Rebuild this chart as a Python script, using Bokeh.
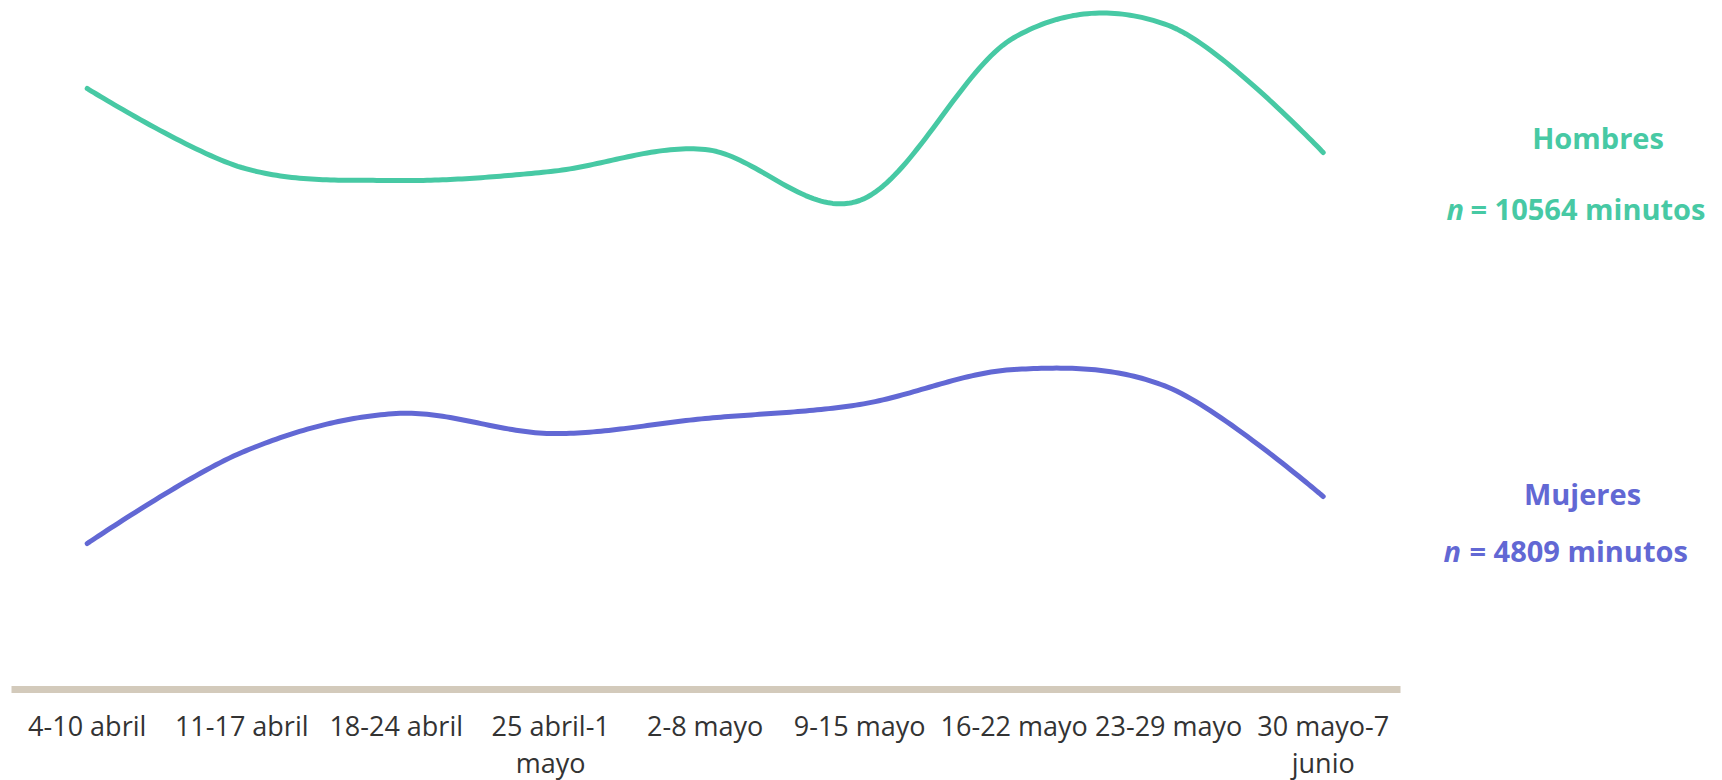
import numpy as np
from bokeh.plotting import figure
from bokeh.models import Range1d, FixedTicker, Label
from bokeh.embed import file_html
from bokeh.resources import INLINE

# ---- data ----
semanas = ["4-10 abril", "11-17 abril", "18-24 abril", "25 abril-1\nmayo", "2-8 mayo",
           "9-15 mayo", "16-22 mayo", "23-29 mayo", "30 mayo-7\njunio"]
hombres = [600, 521, 508, 517, 539, 488, 651, 663, 536]
mujeres = [145, 236, 275, 255, 270, 284, 319, 301, 192]
series_names = ["Hombres", "Mujeres"]
n_minutos = [10564, 4809]
colors = ["#47c9a4", "#6268d4"]


def catmull_rom(y, steps=40):
    """Cardinal (tension 0) spline through the points, with d3-style end handling."""
    P = [np.array([float(i), float(v)]) for i, v in enumerate(y)]
    n = len(P)
    xs, ys = [], []
    for i in range(n - 1):
        p0 = P[i]
        p1 = P[i + 1]
        prev = P[i - 1] if i > 0 else P[i + 1]
        nxt = P[i + 2] if i + 2 < n else P[i]
        c1 = p0 + (p1 - prev) / 6.0
        c2 = p1 + (p0 - nxt) / 6.0
        if i == 0:
            c1 = p0
        if i == n - 2:
            c2 = p1
        t = np.linspace(0, 1, steps, endpoint=(i == n - 2))[:, None]
        pts = ((1 - t) ** 3) * p0 + 3 * ((1 - t) ** 2) * t * c1 + 3 * (1 - t) * t ** 2 * c2 + t ** 3 * p1
        xs.extend(pts[:, 0])
        ys.extend(pts[:, 1])
    return xs, ys


SCALE_X = 154.5
X0_PAGE = 86.7
FRAME_W = 1720


def px2x(px):
    return (px - X0_PAGE) / SCALE_X


def py2y(py):
    return 688 - py


x_start = px2x(0)
p = figure(frame_width=FRAME_W, frame_height=689,
           x_range=Range1d(x_start, x_start + FRAME_W / SCALE_X), y_range=Range1d(-1, 688),
           output_backend="svg", toolbar_location=None, y_axis_location=None,
           min_border=0, outline_line_color=None,
           background_fill_color="white", border_fill_color="white")
p.grid.visible = False

for vals, col in zip([hombres, mujeres], colors):
    xs, ys = catmull_rom(vals)
    p.line(xs, ys, line_color=col, line_width=5, line_cap="round", line_join="round")

ax = p.xaxis[0]
ax.ticker = FixedTicker(ticks=list(range(len(semanas))))
ax.major_label_overrides = {i: s for i, s in enumerate(semanas)}
ax.major_tick_line_color = None
ax.minor_tick_line_color = None
ax.major_tick_out = 0
ax.major_tick_in = 0
ax.axis_line_color = "#d3cabb"
ax.axis_line_width = 7
ax.bounds = (px2x(10.5), px2x(1400))
ax.major_label_text_font = "Open Sans"
ax.major_label_text_font_size = "27px"
ax.major_label_text_color = "#333333"
ax.major_label_text_line_height = 1.0
ax.major_label_standoff = 17

# right-side labels
name_pos = [(1597.5, 137), (1582, 493)]
n_pos = [(1446, 1470, 208), (1443, 1469, 550)]
for name, n, col, (nx, ny), (ix, ex, by) in zip(series_names, n_minutos, colors, name_pos, n_pos):
    p.add_layout(Label(x=px2x(nx), y=py2y(ny), text=name, text_font="Open Sans",
                       text_font_style="bold", text_font_size="29px", text_color=col,
                       text_align="center", text_baseline="alphabetic"))
    p.add_layout(Label(x=px2x(ix), y=py2y(by), text="n", text_font="Open Sans",
                       text_font_style="bold italic", text_font_size="29px", text_color=col,
                       text_align="left", text_baseline="alphabetic"))
    p.add_layout(Label(x=px2x(ex), y=py2y(by), text=f"= {n} minutos", text_font="Open Sans",
                       text_font_style="bold", text_font_size="29px", text_color=col,
                       text_align="left", text_baseline="alphabetic"))

open("out.html", "w").write(file_html(p, INLINE))
